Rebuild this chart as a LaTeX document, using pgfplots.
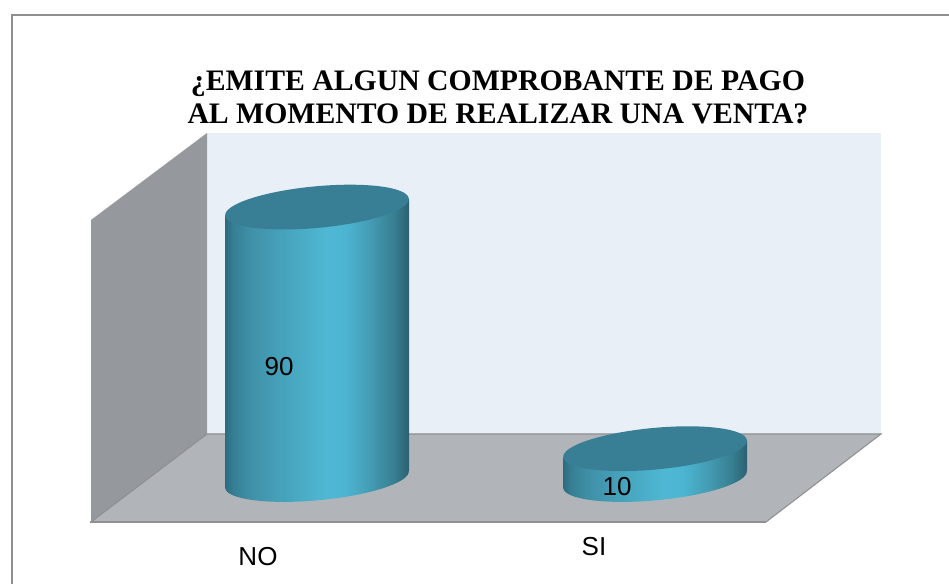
\documentclass[border=0pt]{standalone}
\usepackage{pgfplots}
\pgfplotsset{compat=1.18}
\usepackage{fontspec}
\setmainfont{Liberation Sans}
\newfontfamily\titlefont{Liberation Serif}
\definecolor{cyltop}{HTML}{387F96}
\definecolor{wallc}{HTML}{95989C}
\definecolor{backc}{HTML}{E8EFF6}
\definecolor{floorc}{HTML}{B1B5B9}
\definecolor{edgec}{HTML}{8E9091}
\definecolor{framec}{HTML}{8F8F8F}
\pgfdeclarehorizontalshading{cylside}{100bp}{
 rgb(0bp)=(0.17,0.41,0.49);
 rgb(25bp)=(0.17,0.41,0.49);
 rgb(27.5bp)=(0.21,0.50,0.58);
 rgb(32.5bp)=(0.25,0.57,0.66);
 rgb(42.5bp)=(0.28,0.65,0.75);
 rgb(52.5bp)=(0.31,0.72,0.83);
 rgb(57.5bp)=(0.30,0.71,0.82);
 rgb(65bp)=(0.26,0.60,0.69);
 rgb(71bp)=(0.21,0.49,0.56);
 rgb(75bp)=(0.17,0.37,0.44);
 rgb(100bp)=(0.17,0.37,0.44)}
\pgfdeclareplotmark{cyl}{%
  \pgfmathsetmacro{\cylh}{\vv*3.02}%
  \path[x=0.75pt,y=0.75pt,shading=cylside]
    (-92,-8.5) -- (-92,-8.5-\cylh) -- (92,8.5-\cylh) -- (92,8.5) -- cycle
    (0,-\cylh) ellipse [x radius=92.2,y radius=20.8,rotate=5.3];
  \path[x=0.75pt,y=0.75pt,fill=cyltop]
    (0,0.6) ellipse [x radius=92.2,y radius=20.8,rotate=5.3];
}
\begin{document}
\begin{tikzpicture}
\useasboundingbox (0,0) rectangle (711.75pt,438pt);
\begin{scope}[x=0.75pt,y=-0.75pt,shift={(0pt,438pt)}]
  \fill[white] (0,0) rectangle (949,584);
  \fill[backc] (207,133) rectangle (881,434);
  \fill[wallc] (207,133) -- (91,220) -- (91,522) -- (207,434) -- cycle;
  \fill[floorc] (91,522) -- (207,434) -- (881,434) -- (766,522) -- cycle;
  \draw[edgec,line width=0.8pt] (91,522) -- (207,434) -- (881,434) -- (766,522);
  \draw[edgec,line width=1.4pt] (90,522) -- (766,522);
  \draw[framec,line width=1.5pt] (949,15.5) -- (11.5,15.5) -- (11.5,584);
\end{scope}
\begin{axis}[
  at={(0pt,0pt)},anchor=south west,
  scale only axis,width=711.75pt,height=438pt,
  xmin=-0.93787,xmax=1.86982,ymin=-34.60,ymax=158.77,
  clip=false,
  axis line style={draw=none},
  major tick length=0pt,
  ytick=\empty,
  xtick={-0.1746,0.8195},
  xticklabels={NO,{\raisebox{7.5pt}{SI}}},
  xticklabel style={font=\fontsize{19.5}{19.5}\selectfont,anchor=base,yshift=13.5pt},
  /pgf/number format/assume math mode=true,
  title={\titlefont\bfseries ¿EMITE ALGUN COMPROBANTE DE PAGO\\\titlefont\bfseries AL MOMENTO DE REALIZAR UNA VENTA?},
  title style={at={(axis description cs:0.5247,0.8195)},anchor=center,align=center,
    font=\fontsize{22.3}{25}\selectfont},
]
\addplot[only marks,scatter,mark=cyl,draw=none,point meta=y,
  visualization depends on={y \as \vv},
  nodes near coords,
  every node near coord/.append style={anchor=center,text=black,
    font=\fontsize{19.5}{19.5}\selectfont,xshift=-28.5pt,
    yshift={-(\vv*3.02/2+22.5)*0.75pt}},
] coordinates {(0,90) (1,10)};
\end{axis}
\end{tikzpicture}
\end{document}
